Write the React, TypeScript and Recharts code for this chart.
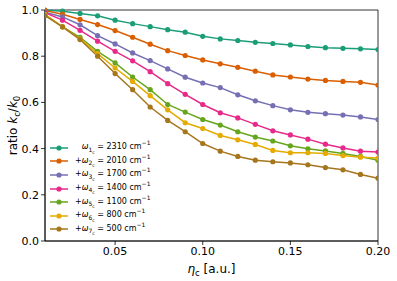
import React from "react";
import { LineChart, Line, XAxis, YAxis, ReferenceArea, Legend } from "recharts";

const eta = [
  0.01, 0.02, 0.03, 0.04, 0.05, 0.06, 0.07, 0.08, 0.09, 0.1,
  0.11, 0.12, 0.13, 0.14, 0.15, 0.16, 0.17, 0.18, 0.19, 0.2,
];

const w2310 = [1.0, 0.995, 0.985, 0.975, 0.956, 0.941, 0.928, 0.915, 0.904, 0.886, 0.875, 0.868, 0.86, 0.855, 0.849, 0.842, 0.837, 0.834, 0.832, 0.829];
const w2010 = [0.998, 0.982, 0.959, 0.937, 0.911, 0.882, 0.852, 0.824, 0.803, 0.784, 0.767, 0.752, 0.735, 0.719, 0.71, 0.701, 0.695, 0.691, 0.687, 0.675];
const w1700 = [0.99, 0.97, 0.936, 0.889, 0.853, 0.814, 0.781, 0.745, 0.709, 0.684, 0.664, 0.633, 0.607, 0.586, 0.568, 0.557, 0.551, 0.545, 0.537, 0.526];
const w1400 = [0.988, 0.956, 0.912, 0.865, 0.821, 0.78, 0.733, 0.681, 0.635, 0.591, 0.555, 0.533, 0.505, 0.477, 0.459, 0.441, 0.419, 0.403, 0.389, 0.385];
const w1100 = [0.98, 0.927, 0.882, 0.821, 0.771, 0.71, 0.655, 0.591, 0.558, 0.526, 0.502, 0.473, 0.45, 0.433, 0.412, 0.399, 0.39, 0.379, 0.366, 0.35];
const w800 = [0.98, 0.927, 0.875, 0.811, 0.749, 0.691, 0.629, 0.568, 0.512, 0.487, 0.457, 0.438, 0.418, 0.392, 0.382, 0.382, 0.379, 0.37, 0.363, 0.359];
const w500 = [0.976, 0.927, 0.872, 0.8, 0.725, 0.655, 0.58, 0.522, 0.473, 0.422, 0.389, 0.366, 0.35, 0.343, 0.338, 0.33, 0.318, 0.308, 0.288, 0.272];

const xTicks = [0.05, 0.1, 0.15, 0.2];
const yTicks = [0, 0.2, 0.4, 0.6, 0.8, 1.0];

const series = [
  { key: "w1", idx: "1", freq: "2310", values: w2310, color: "#1b9e77", plus: false },
  { key: "w2", idx: "2", freq: "2010", values: w2010, color: "#d95f02", plus: true },
  { key: "w3", idx: "3", freq: "1700", values: w1700, color: "#7570b3", plus: true },
  { key: "w4", idx: "4", freq: "1400", values: w1400, color: "#e7298a", plus: true },
  { key: "w5", idx: "5", freq: "1100", values: w1100, color: "#66a61e", plus: true },
  { key: "w6", idx: "6", freq: "800", values: w800, color: "#e6ab02", plus: true },
  { key: "w7", idx: "7", freq: "500", values: w500, color: "#a6761d", plus: true },
];

const data = eta.map((e, i) => {
  const row: Record<string, number> = { eta: e };
  series.forEach((s) => (row[s.key] = s.values[i]));
  return row;
});

const FONT = "DejaVu Sans, sans-serif";

function YLabel(props: any) {
  const vb = props.viewBox;
  const cy = vb.y + vb.height / 2;
  return (
    <text
      x={17}
      y={cy}
      transform={`rotate(-90, 17, ${cy})`}
      textAnchor="middle"
      fontFamily={FONT}
      fontSize={12}
      fill="#000"
    >
      ratio <tspan fontStyle="italic">k</tspan>
      <tspan fontSize={8.5} dy={2.5}>c</tspan>
      <tspan dy={-2.5}>/</tspan>
      <tspan fontStyle="italic">k</tspan>
      <tspan fontSize={8.5} dy={2.5}>0</tspan>
    </text>
  );
}

function XLabel(props: any) {
  const vb = props.viewBox;
  const cx = vb.x + vb.width / 2;
  return (
    <text x={cx} y={vb.y + 32} textAnchor="middle" fontFamily={FONT} fontSize={12} fill="#000">
      <tspan fontStyle="italic">η</tspan>
      <tspan fontSize={8.5} dy={2.5}>c</tspan>
      <tspan dy={-2.5}> [a.u.]</tspan>
    </text>
  );
}

function LegendBox() {
  return (
    <div style={{ fontFamily: FONT, fontSize: 8, color: "#000", lineHeight: "13.6px" }}>
      {series.map((s) => (
        <div key={s.key} style={{ display: "flex", alignItems: "center", height: 13.6 }}>
          <svg width={20} height={8} style={{ marginRight: 5 }}>
            <line x1={0} y1={4} x2={18} y2={4} stroke={s.color} strokeWidth={1.5} />
            <circle cx={9} cy={4} r={2.6} fill={s.color} />
          </svg>
          <span style={{ whiteSpace: "nowrap" }}>
            <span style={{ visibility: s.plus ? "visible" : "hidden" }}>+</span>
            <i>ω</i>
            <sub style={{ fontSize: 6 }}>
              {s.idx}
              <sub style={{ fontSize: 4.5 }}>c</sub>
            </sub>
            {" = "}
            {s.freq} cm<sup style={{ fontSize: 6 }}>−1</sup>
          </span>
        </div>
      ))}
    </div>
  );
}

export default function App() {
  return (
    <div style={{ position: "absolute", left: 0, top: 0 }}>
      <LineChart
        width={397}
        height={281}
        data={data}
        margin={{ top: 10, right: 19, bottom: 0, left: 0 }}
      >
        <XAxis
          dataKey="eta"
          type="number"
          domain={[0.01, 0.2]}
          ticks={xTicks}
          allowDataOverflow
          height={40}
          tickSize={4}
          tickFormatter={(v: number) => v.toFixed(2)}
          tick={{ fontSize: 11, fill: "#000", fontFamily: FONT }}
          axisLine={{ stroke: "#000", strokeWidth: 0.8 }}
          tickLine={{ stroke: "#000", strokeWidth: 0.8 }}
          label={<XLabel />}
        />
        <YAxis
          type="number"
          domain={[0, 1]}
          ticks={yTicks}
          width={45}
          tickSize={4}
          tickFormatter={(v: number) => v.toFixed(1)}
          tick={{ fontSize: 11, fill: "#000", fontFamily: FONT }}
          axisLine={{ stroke: "#000", strokeWidth: 0.8 }}
          tickLine={{ stroke: "#000", strokeWidth: 0.8 }}
          label={<YLabel />}
        />
        <ReferenceArea
          x1={0.01}
          x2={0.2}
          y1={0}
          y2={1}
          fill="none"
          stroke="#000"
          strokeWidth={0.8}
        />
        {series.map((s) => (
          <Line
            key={s.key}
            dataKey={s.key}
            stroke={s.color}
            strokeWidth={1.5}
            dot={{ r: 2.6, fill: s.color, stroke: s.color, strokeWidth: 0 }}
            isAnimationActive={false}
          />
        ))}
        <Legend
          layout="vertical"
          align="center"
          verticalAlign="middle"
          wrapperStyle={{ left: 50, top: 141, width: "auto" }}
          content={() => <LegendBox />}
        />
      </LineChart>
    </div>
  );
}
